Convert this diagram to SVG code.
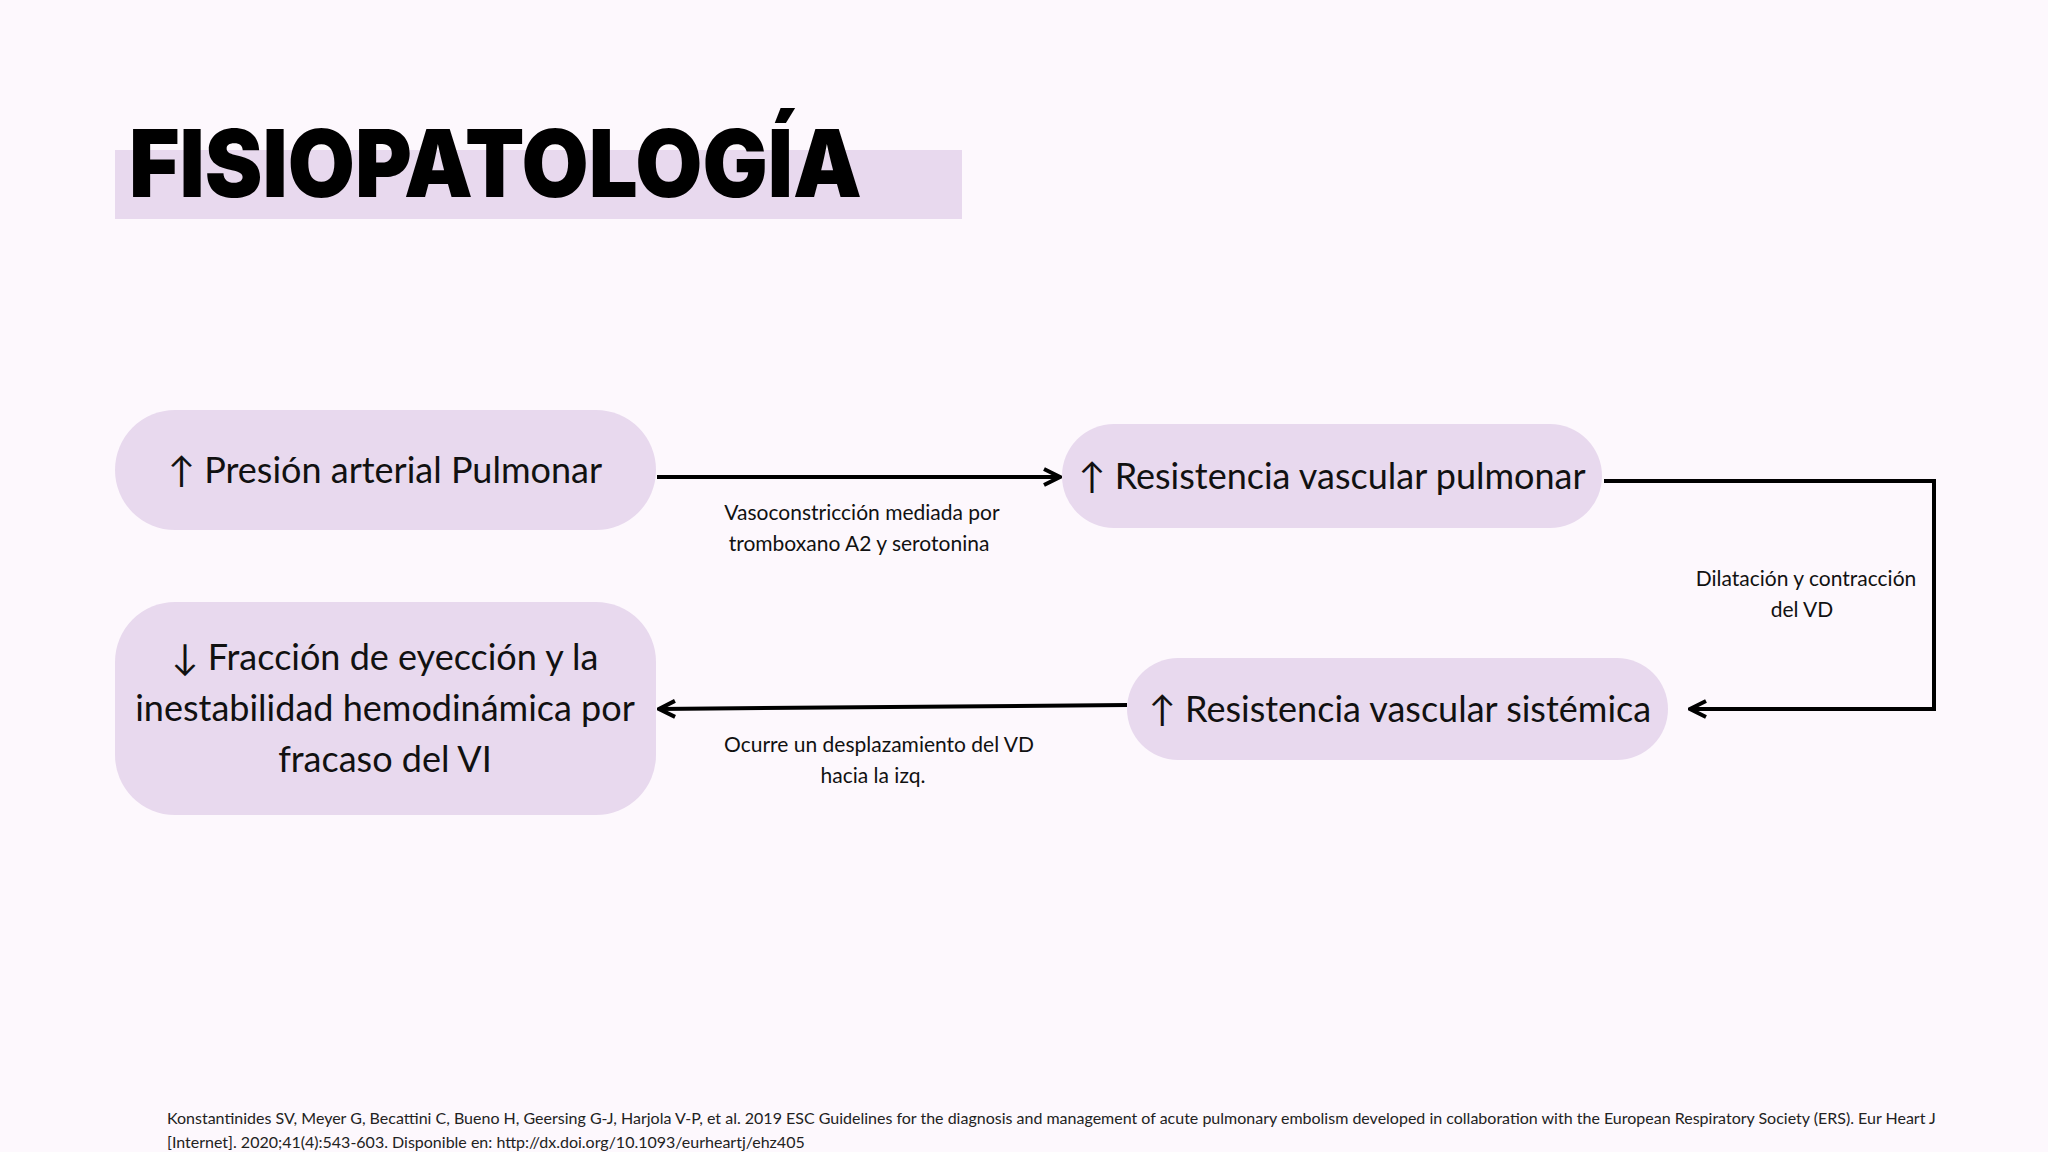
<svg xmlns="http://www.w3.org/2000/svg" width="2048" height="1152" viewBox="0 0 2048 1152">
<defs>
<marker id="ah" viewBox="0 0 10 10" refX="9" refY="5" markerWidth="5" markerHeight="5" orient="auto-start-reverse"><path d="M1,1 L9,5 L1,9" fill="none" stroke="#000" stroke-width="2"/></marker>
<style>
.box{fill:#e8d9ee}
.t{font-family:Lato,"Noto Sans",sans-serif;font-size:36px;fill:#111;text-anchor:middle}
.l{font-family:Lato,"Noto Sans",sans-serif;font-size:21px;fill:#111;text-anchor:middle}
.c{fill:none;stroke:#000;stroke-width:4}
</style>
</defs>
<rect width="2048" height="1152" fill="#fdf8fd"/>
<rect x="115" y="150" width="847" height="69" fill="#e8d9ee"/>
<text x="129" y="197" font-family="Inter,'DejaVu Sans',sans-serif" font-weight="900" font-size="94" fill="#000" textLength="733" lengthAdjust="spacingAndGlyphs">FISIOPATOLOGÍA</text>
<g id="n1"><rect class="box" x="115" y="410" width="541" height="120" rx="60"/><text class="t" x="385" y="483">↑ Presión arterial Pulmonar</text></g>
<g id="n2"><rect class="box" x="1062" y="424" width="540" height="104" rx="52"/><text class="t" x="1332" y="489">↑ Resistencia vascular pulmonar</text></g>
<g id="n3"><rect class="box" x="1127" y="658" width="541" height="102" rx="51"/><text class="t" x="1400" y="722">↑ Resistencia vascular sistémica</text></g>
<g id="n4"><rect class="box" x="115" y="602" width="541" height="213" rx="60"/>
<text class="t" x="385" y="670">↓ Fracción de eyección y la</text>
<text class="t" x="385" y="721">inestabilidad hemodinámica por</text>
<text class="t" x="385" y="772">fracaso del VI</text></g>
<g id="connectors">
<path class="c" d="M657,477 H1060" marker-end="url(#ah)"/>
<path class="c" d="M1604,481 H1934 V709 H1690" marker-end="url(#ah)"/>
<path class="c" d="M1127,705 L659,709" marker-end="url(#ah)"/>
<text class="l" x="862" y="520">Vasoconstricción mediada por</text>
<text class="l" x="859" y="551">tromboxano A2 y serotonina</text>
<text class="l" x="1806" y="586">Dilatación y contracción</text>
<text class="l" x="1802" y="617">del VD</text>
<text class="l" x="879" y="752">Ocurre un desplazamiento del VD</text>
<text class="l" x="873" y="783">hacia la izq.</text>
</g>
<text font-family="Lato,'Noto Sans',sans-serif" font-size="16" fill="#222" x="167" y="1124">Konstantinides SV, Meyer G, Becattini C, Bueno H, Geersing G-J, Harjola V-P, et al. 2019 ESC Guidelines for the diagnosis and management of acute pulmonary embolism developed in collaboration with the European Respiratory Society (ERS). Eur Heart J</text>
<text font-family="Lato,'Noto Sans',sans-serif" font-size="16" fill="#222" x="167" y="1148">[Internet]. 2020;41(4):543-603. Disponible en: http://dx.doi.org/10.1093/eurheartj/ehz405</text>
</svg>
